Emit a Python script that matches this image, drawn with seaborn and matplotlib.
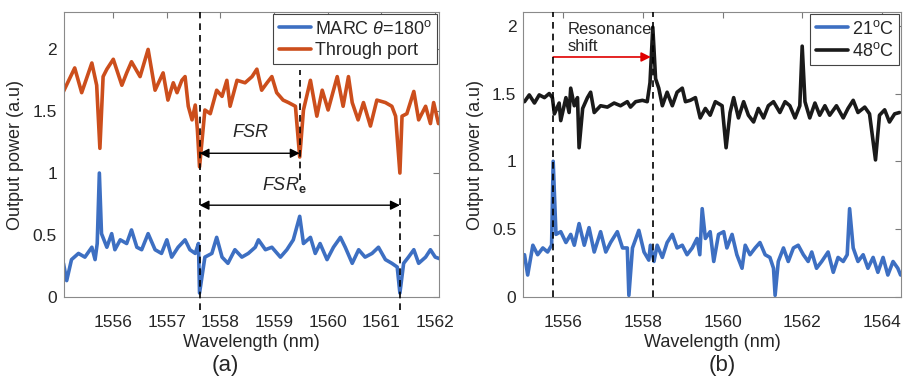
import numpy as np
import pandas as pd
import matplotlib
matplotlib.use("Agg")
import matplotlib.pyplot as plt
import seaborn as sns

# ---------------- data (a) ----------------
wl_thru = [1555.07, 1555.28, 1555.41, 1555.60, 1555.69, 1555.75, 1555.81, 1555.88, 1556.00, 1556.16,
           1556.25, 1556.34, 1556.50, 1556.65, 1556.78, 1556.93, 1557.02, 1557.12, 1557.19, 1557.28,
           1557.34, 1557.40, 1557.47, 1557.53, 1557.57, 1557.61, 1557.71, 1557.81, 1557.93, 1558.03,
           1558.12, 1558.18, 1558.31, 1558.46, 1558.59, 1558.68, 1558.77, 1558.87, 1558.96, 1559.05,
           1559.17, 1559.27, 1559.40, 1559.48, 1559.55, 1559.68, 1559.80, 1559.90, 1560.01, 1560.18,
           1560.29, 1560.39, 1560.46, 1560.57, 1560.67, 1560.80, 1560.92, 1561.08, 1561.20, 1561.27,
           1561.35, 1561.39, 1561.48, 1561.61, 1561.70, 1561.83, 1561.92, 1561.98, 1562.07, 1562.14]
p_thru = [1.66, 1.85, 1.65, 1.89, 1.71, 1.20, 1.78, 1.84, 1.92, 1.71,
          1.81, 1.90, 1.78, 2.00, 1.67, 1.81, 1.59, 1.73, 1.65, 1.75,
          1.78, 1.54, 1.43, 1.55, 1.35, 1.05, 1.51, 1.48, 1.67, 1.62,
          1.75, 1.54, 1.75, 1.73, 1.78, 1.84, 1.67, 1.73, 1.78, 1.65,
          1.59, 1.57, 1.54, 1.13, 1.51, 1.75, 1.46, 1.67, 1.51, 1.78,
          1.54, 1.78, 1.57, 1.43, 1.57, 1.38, 1.59, 1.57, 1.54, 1.46,
          1.00, 1.46, 1.48, 1.66, 1.43, 1.54, 1.40, 1.57, 1.40, 1.45]

wl_marc = [1555.07, 1555.13, 1555.22, 1555.35, 1555.47, 1555.60, 1555.66, 1555.70, 1555.74, 1555.78,
           1555.88, 1555.97, 1556.03, 1556.13, 1556.25, 1556.34, 1556.44, 1556.53, 1556.65, 1556.78,
           1556.90, 1557.00, 1557.09, 1557.21, 1557.34, 1557.43, 1557.53, 1557.59, 1557.61, 1557.71,
           1557.84, 1557.93, 1558.03, 1558.14, 1558.27, 1558.40, 1558.52, 1558.65, 1558.71, 1558.84,
           1558.96, 1559.12, 1559.24, 1559.36, 1559.48, 1559.55, 1559.68, 1559.77, 1559.86, 1559.99,
           1560.11, 1560.24, 1560.33, 1560.46, 1560.58, 1560.70, 1560.83, 1560.95, 1561.08, 1561.20,
           1561.30, 1561.35, 1561.42, 1561.51, 1561.61, 1561.70, 1561.83, 1561.92, 1562.01, 1562.14]
p_marc = [0.27, 0.13, 0.30, 0.35, 0.32, 0.40, 0.30, 0.43, 1.00, 0.51,
          0.40, 0.51, 0.38, 0.46, 0.43, 0.54, 0.40, 0.38, 0.51, 0.38,
          0.35, 0.46, 0.32, 0.40, 0.46, 0.38, 0.35, 0.43, 0.03, 0.32,
          0.35, 0.48, 0.32, 0.27, 0.38, 0.32, 0.35, 0.40, 0.46, 0.38,
          0.40, 0.32, 0.38, 0.46, 0.65, 0.43, 0.48, 0.35, 0.43, 0.30,
          0.40, 0.48, 0.40, 0.27, 0.38, 0.32, 0.35, 0.40, 0.30, 0.27,
          0.24, 0.03, 0.27, 0.32, 0.38, 0.27, 0.32, 0.38, 0.32, 0.30]

# ---------------- data (b) ----------------
wl_48 = [1555.03, 1555.15, 1555.28, 1555.40, 1555.53, 1555.65, 1555.73, 1555.78, 1555.90, 1555.94,
         1556.07, 1556.15, 1556.19, 1556.28, 1556.36, 1556.40, 1556.49, 1556.61, 1556.69, 1556.78,
         1556.94, 1557.11, 1557.28, 1557.44, 1557.61, 1557.69, 1557.82, 1557.99, 1558.11, 1558.18,
         1558.25, 1558.32, 1558.40, 1558.49, 1558.61, 1558.74, 1558.86, 1558.99, 1559.07, 1559.19,
         1559.32, 1559.44, 1559.57, 1559.69, 1559.82, 1559.99, 1560.09, 1560.19, 1560.28, 1560.40,
         1560.53, 1560.65, 1560.78, 1560.90, 1561.03, 1561.15, 1561.28, 1561.44, 1561.57, 1561.69,
         1561.82, 1561.94, 1562.00, 1562.07, 1562.19, 1562.32, 1562.44, 1562.57, 1562.69, 1562.86,
         1563.03, 1563.15, 1563.28, 1563.40, 1563.57, 1563.69, 1563.84, 1563.94, 1564.07, 1564.19,
         1564.32, 1564.44]
p_48 = [1.44, 1.49, 1.43, 1.49, 1.47, 1.50, 1.47, 1.35, 1.43, 1.30,
        1.47, 1.36, 1.54, 1.41, 1.47, 1.10, 1.39, 1.47, 1.51, 1.36,
        1.41, 1.40, 1.43, 1.41, 1.44, 1.40, 1.44, 1.45, 1.44, 1.58,
        1.99, 1.61, 1.54, 1.41, 1.51, 1.41, 1.51, 1.54, 1.44, 1.45,
        1.47, 1.32, 1.39, 1.34, 1.44, 1.41, 1.10, 1.36, 1.47, 1.32,
        1.44, 1.34, 1.29, 1.39, 1.32, 1.41, 1.44, 1.36, 1.44, 1.41,
        1.32, 1.41, 1.85, 1.44, 1.32, 1.43, 1.34, 1.41, 1.34, 1.41,
        1.32, 1.39, 1.45, 1.36, 1.40, 1.35, 1.01, 1.34, 1.38, 1.29,
        1.35, 1.36]

wl_21 = [1555.03, 1555.11, 1555.24, 1555.36, 1555.49, 1555.61, 1555.71, 1555.75, 1555.82, 1555.94,
         1556.07, 1556.19, 1556.28, 1556.40, 1556.53, 1556.65, 1556.78, 1556.94, 1557.07, 1557.19,
         1557.36, 1557.49, 1557.61, 1557.65, 1557.74, 1557.90, 1558.03, 1558.15, 1558.19, 1558.28,
         1558.36, 1558.49, 1558.61, 1558.74, 1558.86, 1558.99, 1559.11, 1559.24, 1559.36, 1559.43,
         1559.49, 1559.57, 1559.69, 1559.78, 1559.90, 1560.03, 1560.11, 1560.24, 1560.36, 1560.49,
         1560.57, 1560.69, 1560.82, 1560.94, 1561.07, 1561.19, 1561.28, 1561.32, 1561.40, 1561.53,
         1561.65, 1561.78, 1561.90, 1562.03, 1562.15, 1562.24, 1562.36, 1562.49, 1562.65, 1562.78,
         1562.90, 1563.03, 1563.13, 1563.19, 1563.28, 1563.40, 1563.53, 1563.65, 1563.78, 1563.90,
         1564.03, 1564.15, 1564.28, 1564.40, 1564.47]
p_21 = [0.31, 0.16, 0.38, 0.31, 0.36, 0.33, 0.38, 1.00, 0.46, 0.48,
        0.40, 0.46, 0.38, 0.54, 0.38, 0.51, 0.33, 0.48, 0.33, 0.40,
        0.48, 0.36, 0.36, 0.01, 0.36, 0.49, 0.33, 0.27, 0.38, 0.26,
        0.38, 0.29, 0.40, 0.46, 0.36, 0.38, 0.31, 0.36, 0.43, 0.31,
        0.65, 0.43, 0.48, 0.26, 0.46, 0.48, 0.36, 0.46, 0.31, 0.21,
        0.38, 0.31, 0.36, 0.40, 0.31, 0.29, 0.21, 0.01, 0.26, 0.36,
        0.26, 0.36, 0.38, 0.31, 0.26, 0.33, 0.21, 0.26, 0.33, 0.18,
        0.29, 0.26, 0.31, 0.65, 0.36, 0.26, 0.31, 0.21, 0.29, 0.18,
        0.29, 0.16, 0.26, 0.21, 0.16]

# markers / annotations
fsr_lines = [1557.61, 1559.48, 1561.35]
shift_lines = [1555.75, 1558.25]
ticks_a = [1556, 1557, 1558, 1559, 1560, 1561, 1562]
ticks_b = [1556, 1558, 1560, 1562, 1564]
yticks = [0, 0.5, 1, 1.5, 2]
yticks_lab = ["0", "0.5", "1", "1.5", "2"]

BLUE = "#3d6fc2"
ORANGE = "#cc4e1c"
BLACK = "#1a1a1a"

sns.set_style("white")
plt.rcParams["font.family"] = ["Liberation Sans", "DejaVu Sans"]
plt.rcParams["mathtext.fontset"] = "custom"
plt.rcParams["mathtext.rm"] = "Liberation Sans"
plt.rcParams["mathtext.it"] = "Liberation Sans:italic"
plt.rcParams["mathtext.bf"] = "Liberation Sans:bold"

fig = plt.figure(figsize=(9.04, 3.91), dpi=100)
axA = fig.add_axes([64 / 904, 1 - 296.7 / 391, 375 / 904, 284.4 / 391])
axB = fig.add_axes([523.3 / 904, 1 - 296.7 / 391, 377.7 / 904, 284.4 / 391])

LW = 2.6
sns.lineplot(x=wl_marc, y=p_marc, ax=axA, color=BLUE, lw=LW, label=r"MARC $\theta$=180$^{\mathrm{o}}$")
sns.lineplot(x=wl_thru, y=p_thru, ax=axA, color=ORANGE, lw=LW, label="Through port")
sns.lineplot(x=wl_21, y=p_21, ax=axB, color=BLUE, lw=LW, label=r"21$^{\mathrm{o}}$C")
sns.lineplot(x=wl_48, y=p_48, ax=axB, color=BLACK, lw=LW, label=r"48$^{\mathrm{o}}$C")

FS = 13
TFS = 12.5
for ax, xt in ((axA, ticks_a), (axB, ticks_b)):
    ax.set_xticks(xt)
    ax.set_xticklabels([str(t) for t in xt])
    ax.set_yticks(yticks)
    ax.set_yticklabels(yticks_lab)
    ax.tick_params(direction="in", top=True, right=True, length=4, width=0.8,
                   labelsize=TFS, colors="#7a7a7a", labelcolor="#262626")
    ax.tick_params(axis="x", pad=13)
    ax.tick_params(axis="y", pad=5)
    for s in ax.spines.values():
        s.set_color("#8a8a8a")
        s.set_linewidth(0.8)
    ax.set_xlabel("Wavelength (nm)", fontsize=FS, color="#262626", labelpad=3)
    ax.set_ylabel("Output power (a.u)", fontsize=FS, color="#262626", labelpad=6)
    leg = ax.legend(loc="upper right", fontsize=FS, frameon=True, fancybox=False,
                    framealpha=1, edgecolor="#444444", borderaxespad=0.1,
                    handlelength=1.8, handletextpad=0.2, borderpad=0.3, labelspacing=0.25)
    leg.get_frame().set_linewidth(0.8)

axA.set_xlim(1555.08, 1562.08)
axA.set_ylim(0, 2.3)
axB.set_xlim(1555.0, 1564.48)
axB.set_ylim(0, 2.1)

# (a) dashed markers
dash = dict(color="black", ls=(0, (4, 3)), lw=1.2, clip_on=False, zorder=5)
axA.plot([fsr_lines[0], fsr_lines[0]], [-0.11, 2.3], **dash)
axA.plot([fsr_lines[1], fsr_lines[1]], [0.94, 1.83], **dash)
axA.plot([fsr_lines[2], fsr_lines[2]], [-0.11, 0.81], **dash)
arr = dict(arrowstyle="<|-|>", color="black", lw=1.0, mutation_scale=14, shrinkA=0, shrinkB=0)
axA.annotate("", xy=(fsr_lines[1], 1.16), xytext=(fsr_lines[0], 1.16), arrowprops=arr)
axA.annotate("", xy=(fsr_lines[2], 0.74), xytext=(fsr_lines[0], 0.74), arrowprops=arr)
axA.text(1558.56, 1.33, "FSR", style="italic", fontsize=FS, ha="center", va="center")
axA.text(1559.2, 0.90, r"$\mathit{FSR}_{\mathbf{e}}$", fontsize=FS, ha="center", va="center")

# (b) dashed markers and shift arrow
for xv in shift_lines:
    axB.plot([xv, xv], [0, 2.1], **dash)
axB.annotate("", xy=(shift_lines[1] - 0.05, 1.77), xytext=(shift_lines[0], 1.77),
             arrowprops=dict(arrowstyle="-|>", color="#e00000", lw=1.2, mutation_scale=14,
                             shrinkA=0, shrinkB=0))
axB.text(1556.1, 1.91, "Resonance\nshift", fontsize=12, ha="left", va="center",
         linespacing=1.2)

fig.text(225 / 904, 1 - 366 / 391, "(a)", fontsize=16, ha="center", va="center")
fig.text(722 / 904, 1 - 366 / 391, "(b)", fontsize=16, ha="center", va="center")

fig.savefig("out.png", dpi=100)
